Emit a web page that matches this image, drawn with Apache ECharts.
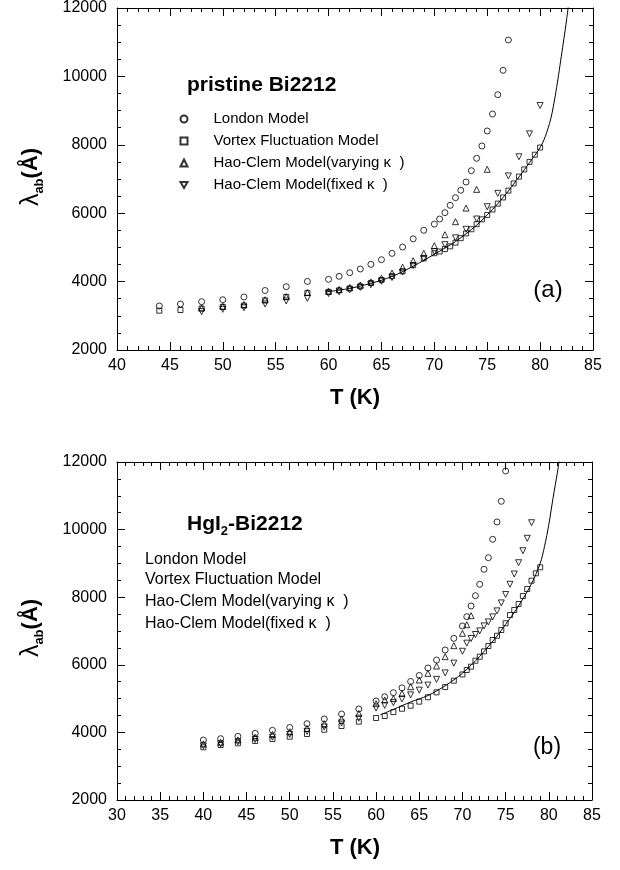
<!DOCTYPE html>
<html>
<head>
<meta charset="utf-8">
<script src="https://cdn.jsdelivr.net/npm/echarts@6/dist/echarts.min.js"></script>
<style>html,body{margin:0;padding:0;background:#fff}#c{width:620px;height:870px}</style>
</head>
<body>
<div id="c"></div>
<script>
// ---------- Panel (a): pristine Bi2212 ----------
const topLondonT = [44,46,48,50,52,54,56,58,60,61,62,63,64,65,66,67,68,69,70,70.5,71,71.5,72,72.5,73,73.5,74,74.5,75,75.5,76,76.5,77];
const topLondon  = [3287,3345,3412,3470,3550,3740,3850,4005,4067,4155,4260,4368,4505,4640,4825,5010,5250,5500,5680,5830,6015,6230,6453,6670,6912,7243,7605,7965,8404,8900,9465,10178,11064];
const topVortexT = [44,46,48,50,52,54,56,58,60,61,62,63,64,65,66,67,68,69,70,70.5,71,71.5,72,72.5,73,73.5,74,74.5,75,75.5,76,76.5,77,77.5,78,78.5,79,79.5,80];
const topVortex  = [3150,3170,3210,3260,3300,3450,3550,3670,3700,3745,3800,3860,3960,4050,4160,4300,4480,4680,4830,4880,4950,5030,5140,5270,5410,5530,5680,5820,5950,6110,6280,6460,6660,6870,7070,7280,7500,7710,7920];
const topVaryT = [48,50,52,54,56,58,60,61,62,63,64,65,66,67,68,69,70,71,72,73,74,75];
const topVary  = [3230,3280,3330,3470,3560,3680,3720,3770,3830,3900,3990,4100,4250,4420,4611,4827,5050,5370,5752,6150,6697,7283];
const topFixedT = [48,50,52,54,56,58,60,61,62,63,64,65,66,67,68,69,70,71,72,73,74,75,76,77,78,79,80];
const topFixed  = [3120,3190,3237,3345,3433,3510,3650,3700,3760,3830,3910,4010,4120,4280,4470,4680,4880,5080,5280,5530,5830,6190,6580,7090,7650,8320,9150];
const topCurveT = [59.8,61,62,63,64,65,66,67,68,69,70,71,72,73,74,75,76,77,78,79,80,80.5,81,81.25,81.5,81.75,82,82.25,82.5,82.8];
const topCurve  = [3700,3750,3800,3870,3950,4040,4150,4290,4450,4620,4800,4980,5170,5400,5650,5950,6280,6650,7060,7480,7920,8250,8750,9120,9560,10050,10580,11100,11650,12400];

// ---------- Panel (b): HgI2-Bi2212 ----------
const botLondonT = [40,42,44,46,48,50,52,54,56,58,60,61,62,63,64,65,66,67,68,69,70,70.5,71,71.5,72,72.5,73,73.5,74,74.5,75];
const botLondon  = [3775,3814,3884,3973,4062,4145,4258,4396,4544,4692,4929,5056,5175,5318,5506,5684,5905,6142,6438,6784,7148,7423,7740,8044,8382,8825,9169,9713,10225,10837,11734];
const botVortexT = [40,42,44,46,48,50,52,54,56,58,60,61,62,63,64,65,66,67,68,69,70,70.5,71,71.5,72,72.5,73,73.5,74,74.5,75,75.5,76,76.5,77,77.5,78,78.5,79];
const botVortex  = [3559,3627,3677,3746,3805,3873,3953,4080,4189,4317,4426,4485,4600,4700,4790,4910,5040,5185,5340,5530,5715,5846,5944,6121,6240,6398,6556,6734,6860,7030,7228,7473,7621,7799,8036,8243,8488,8707,8885];
const botVaryT = [40,42,44,46,48,50,52,54,56,58,60,61,62,63,64,65,66,67,68,69,70,70.5,71];
const botVary  = [3660,3710,3780,3860,3940,4020,4120,4260,4400,4560,4850,4960,5003,5152,5352,5550,5747,5964,6240,6566,6931,7187,7453];
const botFixedT = [40,42,44,46,48,50,52,54,56,58,60,61,62,63,64,65,66,67,68,69,70,70.5,71,71.5,72,72.5,73,73.5,74,74.5,75,75.5,76,76.5,77,77.5,78];
const botFixed  = [3600,3660,3720,3790,3860,3940,4030,4160,4280,4420,4720,4800,4880,4990,5110,5250,5400,5570,5760,6050,6400,6640,6778,6896,7003,7151,7269,7417,7595,7831,8080,8382,8686,9020,9375,9742,10204];
const botCurveT = [60.5,62,64,66,68,70,72,74,75,76,77,78,79,79.5,80,80.5,81,81.3];
const botCurve  = [4520,4680,4900,5090,5380,5750,6250,6850,7200,7550,7950,8400,9000,9500,10150,10950,11700,12200];

const seriesNames = ['London Model','Vortex Fluctuation Model','Hao-Clem Model(varying \u03ba  )','Hao-Clem Model(fixed \u03ba  )'];
const yTicks = {min:2000, max:12000, interval:2000};

const FONT = '"Liberation Sans", Arial, Helvetica, sans-serif';
const pts = (T, L) => T.map((t, i) => [t, L[i]]);

function xAx(gi, min, pos, label) {
  return {type:'value', gridIndex:gi, position:pos, min:min, max:85, interval:5,
    axisLine:{show:true, onZero:false, lineStyle:{color:'#000', width:1}},
    axisTick:{show:true, inside:true, length:8, lineStyle:{color:'#000'}},
    minorTick:{show:true, splitNumber:5, length:4, lineStyle:{color:'#000'}},
    splitLine:{show:false},
    axisLabel:{show:label, color:'#000', fontSize:16, fontFamily:FONT, margin:8}};
}
function yAx(gi, pos, label) {
  return {type:'value', gridIndex:gi, position:pos, min:yTicks.min, max:yTicks.max, interval:yTicks.interval,
    axisLine:{show:true, onZero:false, lineStyle:{color:'#000', width:1}},
    axisTick:{show:true, inside:true, length:8, lineStyle:{color:'#000'}},
    minorTick:{show:true, splitNumber:4, length:4, lineStyle:{color:'#000'}},
    splitLine:{show:false},
    axisLabel:{show:label, color:'#000', fontSize:16, fontFamily:FONT, margin:10, formatter:v => String(v)}};
}
const hollow = {color:'rgba(0,0,0,0)', borderColor:'#000', borderWidth:1};
function sc(name, xi, yi, data, symbol, size, rot) {
  return {type:'scatter', name:name, xAxisIndex:xi, yAxisIndex:yi, data:data, symbol:symbol,
    symbolSize:size, symbolRotate:rot||0, symbolKeepAspect:true, itemStyle:hollow, silent:true};
}
function curve(xi, yi, data) {
  return {type:'line', name:'curve'+xi, xAxisIndex:xi, yAxisIndex:yi, data:data, symbol:'none', smooth:0.3,
    clip:true, lineStyle:{color:'#000', width:1}, silent:true};
}

const chart = echarts.init(document.getElementById('c'), null, {renderer:'canvas'});
const lam = (x, y) => ({
  type:'text', x:x, y:y, rotation:Math.PI/2,
  style:{text:'{a|\u03bb}{s|ab}{b|(\u00c5)}', align:'center', verticalAlign:'middle', fill:'#000',
    rich:{a:{fontSize:25, fontFamily:FONT, lineHeight:30, verticalAlign:'middle'},
          s:{fontSize:13, fontWeight:'bold', fontFamily:FONT, lineHeight:13, verticalAlign:'bottom'},
          b:{fontSize:22, fontWeight:'bold', fontFamily:FONT, lineHeight:30, verticalAlign:'middle'}}}
});
const txt = (x, y, s, size, bold, align) => ({type:'text', x:x, y:y,
  style:{text:s, fill:'#000', font:(bold?'bold ':'')+size+'px '+FONT, align:align||'left', verticalAlign:'middle'}});

chart.setOption({
  animation:false,
  backgroundColor:'#fff',
  grid:[{left:117, top:8, width:476, height:342}, {left:117, top:462, width:475, height:338}],
  xAxis:[xAx(0,40,'bottom',true), xAx(0,40,'top',false), xAx(1,30,'bottom',true), xAx(1,30,'top',false)],
  yAxis:[yAx(0,'left',true), yAx(0,'right',false), yAx(1,'left',true), yAx(1,'right',false)],
  legend:{show:true, orient:'vertical', left:174.5, top:103, itemWidth:7, itemHeight:7, itemGap:0,
    data:[seriesNames[0], seriesNames[1], seriesNames[2],
          {name:seriesNames[3], icon:'path://M0,0 L10,0 L5,8.66 Z'}],
    selectedMode:false,
    formatter:'{t|{name}}',
    textStyle:{fontSize:15, fontFamily:FONT, color:'#000', lineHeight:22,
      rich:{t:{fontSize:15, fontFamily:FONT, color:'#000', lineHeight:22, padding:[0,0,0,21]}}}},
  series:[
    sc(seriesNames[0],0,0,pts(topLondonT,topLondon),'circle',6),
    sc(seriesNames[1],0,0,pts(topVortexT,topVortex),'rect',5),
    sc(seriesNames[2],0,0,pts(topVaryT,topVary),'triangle',6),
    sc(seriesNames[3],0,0,pts(topFixedT,topFixed),'triangle',6,180),
    curve(0,0,pts(topCurveT,topCurve)),
    sc(seriesNames[0],2,2,pts(botLondonT,botLondon),'circle',6),
    sc(seriesNames[1],2,2,pts(botVortexT,botVortex),'rect',5),
    sc(seriesNames[2],2,2,pts(botVaryT,botVary),'triangle',6),
    sc(seriesNames[3],2,2,pts(botFixedT,botFixed),'triangle',6,180),
    curve(2,2,pts(botCurveT,botCurve))
  ],
  graphic:[
    txt(355, 398, 'T (K)', 22, true, 'center'),
    txt(355, 848, 'T (K)', 22, true, 'center'),
    lam(31, 177),
    lam(31, 628),
    txt(187, 85, 'pristine Bi2212', 21, true),
    {type:'text', x:187, y:524, style:{text:'{a|HgI}{s|2}{a|-Bi2212}', fill:'#000', align:'left', verticalAlign:'middle',
      rich:{a:{fontSize:21, fontWeight:'bold', fontFamily:FONT, lineHeight:28, verticalAlign:'middle'},
            s:{fontSize:13, fontWeight:'bold', fontFamily:FONT, lineHeight:13, verticalAlign:'bottom'}}}},
    txt(145, 560, seriesNames[0], 16, false),
    txt(145, 580, seriesNames[1], 16, false),
    txt(145, 602, seriesNames[2], 16, false),
    txt(145, 624, seriesNames[3], 16, false),
    txt(548, 290, '(a)', 24, false, 'center'),
    txt(547, 748, '(b)', 23, false, 'center')
  ]
});
</script>
</body>
</html>
